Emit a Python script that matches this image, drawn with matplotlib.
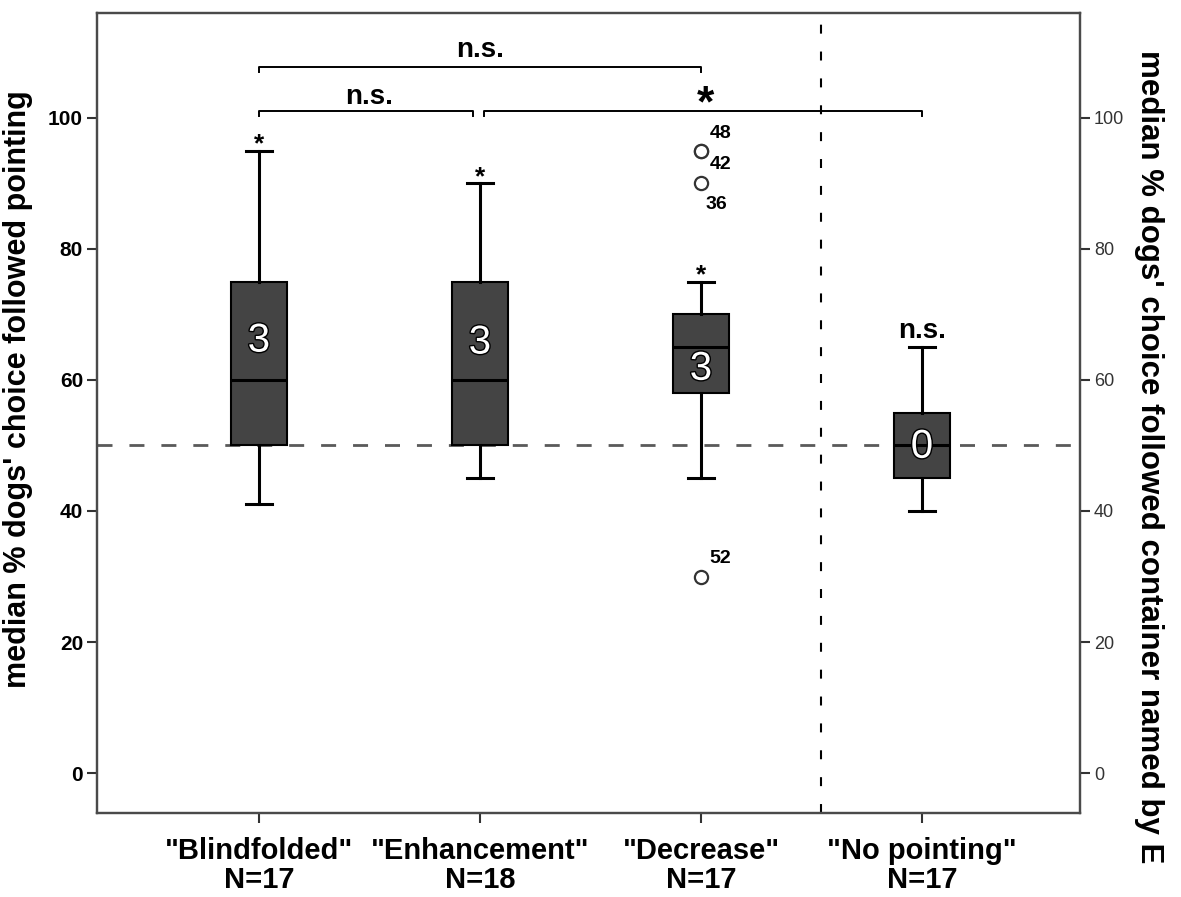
import matplotlib
matplotlib.use("Agg")
import matplotlib.pyplot as plt
import matplotlib.patheffects as pe

plt.rcParams['font.family'] = ['Liberation Sans', 'DejaVu Sans']

# data
groups = ['"Blindfolded"\nN=17', '"Enhancement"\nN=18', '"Decrease"\nN=17', '"No pointing"\nN=17']
whislo = [41, 45, 45, 40]
q1 = [50, 50, 58, 45]
med = [60, 60, 65, 50]
q3 = [75, 75, 70, 55]
whishi = [95, 90, 75, 65]
fliers = [[], [], [95, 95, 90, 30], []]
flier_ids = ['48', '42', '36', '52']
box_counts = ['3', '3', '3', '0']
above_marks = ['*', '*', '*', 'n.s.']
chance = 50

fig = plt.figure(figsize=(11.81, 8.97), dpi=100)
ax = fig.add_axes([0.0821, 0.0936, 0.8324, 0.8919])

pos = [1, 2, 3, 4]
stats = []
for i in range(4):
    stats.append(dict(med=med[i], q1=q1[i], q3=q3[i], whislo=whislo[i],
                      whishi=whishi[i], fliers=fliers[i]))

ax.bxp(stats, positions=pos, widths=0.253, capwidths=0.12, patch_artist=True,
       boxprops=dict(facecolor='#444444', edgecolor='black', linewidth=1.5),
       medianprops=dict(color='black', linewidth=2.2),
       whiskerprops=dict(color='black', linewidth=2.2),
       capprops=dict(color='black', linewidth=2.2),
       flierprops=dict(marker='o', markersize=9.5, markerfacecolor='white',
                       markeredgecolor='#333333', markeredgewidth=1.6),
       zorder=3)

# reference lines
ax.axhline(chance, color='#5a5a5a', linewidth=2, dashes=(5.4, 6.1), zorder=1)
ax.axvline(3.543, color='black', linewidth=1.5, dashes=(4.3, 8.6), zorder=1)

# counts inside boxes
count_y = [66, 65.7, 61.7, 49.8]
for x, c, y in zip(pos, box_counts, count_y):
    ax.text(x, y, c, ha='center', va='center', fontsize=29, color='white', zorder=5,
            path_effects=[pe.withStroke(linewidth=2, foreground='black')])

# marks above upper whiskers
for x, m, w in zip(pos, above_marks, whishi):
    if m == '*':
        ax.text(x, w - 0.1, m, ha='center', va='baseline', fontsize=19, fontweight='bold')
    else:
        ax.text(x, w + 0.5, m, ha='center', va='bottom', fontsize=20, fontweight='bold')

# outlier ids
fl_pts = [(95, (14, 12)), (95, (14, -10)), (90, (11, -15)), (30, (14, 13))]
for fid, (y, off) in zip(flier_ids, fl_pts):
    ax.annotate(fid, xy=(3, y), xytext=off, textcoords='offset points',
                ha='center', va='center', fontsize=14, fontweight='bold')

# significance brackets
def bracket(x0, x1, y, leg=0.8):
    ax.plot([x0, x0, x1, x1], [y - leg, y, y, y - leg], color='black', linewidth=1.4,
            clip_on=False)

bracket(1, 3, 107.8)
bracket(1, 1.97, 101.1)
bracket(2.02, 4, 101.1)
ax.text(2.0, 110.4, 'n.s.', ha='center', va='center', fontsize=20, fontweight='bold')
ax.text(1.5, 103.2, 'n.s.', ha='center', va='center', fontsize=20, fontweight='bold')
ax.text(3.02, 100.2, '*', ha='center', va='baseline', fontsize=32, fontweight='bold')

ax.set_xlim(0.267, 4.715)
ax.set_ylim(-6.1, 116)
ax.set_xticks(pos)
ax.set_xticklabels(groups, fontsize=21, fontweight='bold', linespacing=1.05)
ax.set_yticks(range(0, 101, 20))
for lab in ax.get_yticklabels():
    lab.set_fontweight('bold')
    lab.set_fontsize(15)
ax.tick_params(axis='both', direction='out', length=7, width=1.5, color='#333333')
ax.tick_params(axis='x', pad=10)
ax.tick_params(axis='y', pad=3)
ax.set_ylabel("median % dogs' choice followed pointing", fontsize=22, fontweight='bold')
ax.yaxis.set_label_coords(-0.065, 0.53)

ax2 = ax.twinx()
ax2.set_ylim(ax.get_ylim())
ax2.set_yticks(range(0, 101, 20))
ax2.tick_params(axis='y', direction='out', length=7, width=1.5, color='#333333',
                labelsize=13, labelcolor='#333333', pad=3)
ax2.set_ylabel("median % dogs' choice followed container named by E", fontsize=22.5,
               fontweight='bold', rotation=270, va='bottom')
ax2.yaxis.set_label_coords(1.055, 0.445)

for a in (ax, ax2):
    for s in a.spines.values():
        s.set_color('#4a4a4a')
        s.set_linewidth(1.6)

fig.savefig('out.png', dpi=100)
